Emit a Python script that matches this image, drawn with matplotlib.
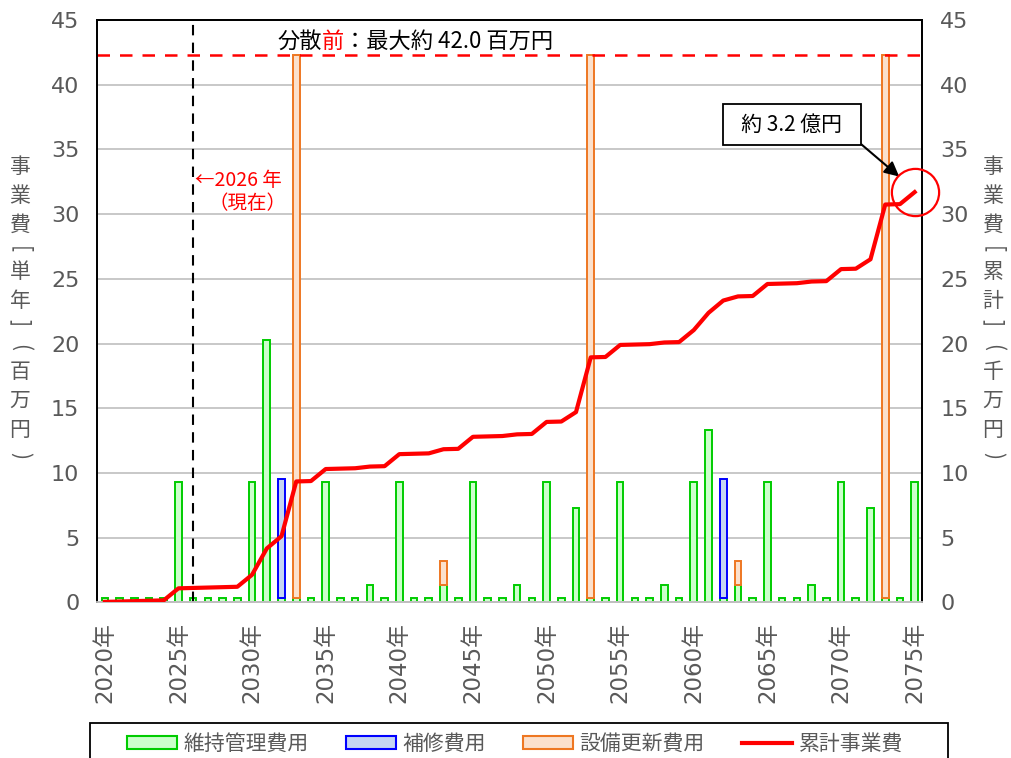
import numpy as np
import matplotlib.pyplot as plt
from matplotlib.patches import Patch, Rectangle
from matplotlib.lines import Line2D

plt.rcParams['font.family'] = ['Noto Sans CJK JP', 'DejaVu Sans']

# data (百万円 per year, cumulative in 千万円)
years = list(range(2020, 2076))
maintenance = [0.3, 0.3, 0.3, 0.3, 0.3, 9.3, 0.3, 0.3, 0.3, 0.3,
               9.3, 20.3, 0.3, 0.3, 0.3, 9.3, 0.3, 0.3, 1.3, 0.3,
               9.3, 0.3, 0.3, 1.3, 0.3, 9.3, 0.3, 0.3, 1.3, 0.3,
               9.3, 0.3, 7.3, 0.3, 0.3, 9.3, 0.3, 0.3, 1.3, 0.3,
               9.3, 13.3, 0.3, 1.3, 0.3, 9.3, 0.3, 0.3, 1.3, 0.3,
               9.3, 0.3, 7.3, 0.3, 0.3, 9.3]
repair_years = [2032, 2062]
repair_vals = [9.2, 9.2]
renewal_years = [2033, 2043, 2053, 2063, 2073]
renewal_vals = [42.0, 1.9, 42.0, 1.9, 42.0]
cumulative = [0.03, 0.06, 0.09, 0.12, 0.15, 1.08, 1.11, 1.14, 1.17, 1.20,
              2.13, 4.16, 5.11, 9.34, 9.37, 10.30, 10.33, 10.36, 10.49, 10.52,
              11.45, 11.48, 11.51, 11.83, 11.86, 12.79, 12.82, 12.85, 12.98, 13.01,
              13.94, 13.97, 14.70, 18.93, 18.96, 19.89, 19.92, 19.95, 20.08, 20.11,
              21.04, 22.37, 23.32, 23.64, 23.67, 24.60, 24.63, 24.66, 24.79, 24.82,
              25.75, 25.78, 26.51, 30.74, 30.77, 31.70]
max_before = 42.3
now_year = 2026
tick_years = list(range(2020, 2076, 5))

repair = [0.0] * len(years)
for y, v in zip(repair_years, repair_vals):
    repair[years.index(y)] = v
renewal = [0.0] * len(years)
for y, v in zip(renewal_years, renewal_vals):
    renewal[years.index(y)] = v

x = np.arange(len(years))
maintenance = np.array(maintenance)
repair = np.array(repair)
renewal = np.array(renewal)

GRAY = '#595959'
G_EDGE, G_FILL = '#00CC00', '#CCFFCC'
B_EDGE, B_FILL = '#0000FF', '#C6D6F2'
O_EDGE, O_FILL = '#EE7722', '#FBE0CC'
NUM_FONT = ['DejaVu Sans', 'Noto Sans CJK JP']

fig = plt.figure(figsize=(10.12, 7.58), dpi=100)
ax = fig.add_axes([0.0963, 0.2054, 0.9111 - 0.0963, 0.9736 - 0.2054])
ax2 = ax.twinx()

w = 0.45
ax.bar(x, maintenance, w, color=G_FILL, edgecolor=G_EDGE, lw=1.4, zorder=2)
m = repair > 0
ax.bar(x[m], repair[m], w, bottom=maintenance[m],
       color=B_FILL, edgecolor=B_EDGE, lw=1.4, zorder=2)
m = renewal > 0
ax.bar(x[m], renewal[m], w, bottom=(maintenance + repair)[m],
       color=O_FILL, edgecolor=O_EDGE, lw=1.4, zorder=2)

ax2.plot(x, cumulative, color='#FF0000', lw=3, solid_joinstyle='round', zorder=3)

ax.set_xlim(-0.5, len(years) - 0.5)
ax.set_ylim(0, 45)
ax2.set_ylim(0, 45)
ax.set_yticks(range(0, 46, 5))
ax2.set_yticks(range(0, 46, 5))
ax.grid(axis='y', color='#BFBFBF', lw=1.2)
ax.set_axisbelow(True)

ax.set_xticks([years.index(t) for t in tick_years])
ax.set_xticklabels(['%d年' % t for t in tick_years], rotation=90)
ax.tick_params(axis='x', length=0, pad=14, labelsize=16.5, labelcolor=GRAY)
ax.tick_params(axis='y', length=0, pad=13, labelsize=16, labelcolor=GRAY)
ax2.tick_params(axis='y', length=0, pad=13, labelsize=16, labelcolor=GRAY)
for lab in ax.get_xticklabels() + ax.get_yticklabels() + ax2.get_yticklabels():
    lab.set_fontfamily(NUM_FONT)

for a in (ax, ax2):
    for s in ('left', 'right', 'top'):
        a.spines[s].set_color('black')
        a.spines[s].set_linewidth(1.3)
    a.spines['bottom'].set_color('#BFBFBF')
    a.spines['bottom'].set_linewidth(1.3)

# reference lines
ax.axhline(max_before, color='#FF0000', lw=1.8, dashes=(5, 4), zorder=4)
ax.axvline(years.index(now_year), color='black', lw=1.5, dashes=(5, 3.5), zorder=4)

# top annotation
t1 = ax.text(11.7, 42.45, '分散', fontsize=16, color='black', va='bottom', ha='left')
t2 = ax.annotate('前', xy=(1, 0), xycoords=t1, fontsize=16, color='#FF0000',
                 va='bottom', ha='left')
ax.annotate('：最大約 42.0 百万円', xy=(1, 0), xycoords=t2, fontsize=16,
            color='black', va='bottom', ha='left')

ax.text(6.15, 32.6, '←2026 年', fontsize=14, color='#FF0000', va='center', ha='left')
ax.text(9.7, 30.8, '（現在）', fontsize=14, color='#FF0000', va='center', ha='center')

# total annotation
ax2.plot([x[-1]], [cumulative[-1]], marker='o', ms=34, mfc='none', mec='#FF0000',
         mew=1.6, clip_on=False, zorder=5)
ax2.annotate('  約 3.2 億円  ', xy=(53.95, 32.9), xytext=(46.65, 36.9),
             textcoords='data', fontsize=15, color='black', ha='center', va='center',
             bbox=dict(boxstyle='square,pad=0.45', fc='white', ec='black', lw=1.3),
             arrowprops=dict(arrowstyle='-|>', color='black', lw=1.5, relpos=(1, 0),
                             shrinkA=0, shrinkB=0, mutation_scale=22))


# vertical axis titles, one character at a time (tategaki)
def vertical_title(xpix, chars):
    ys = [167, 196, 225, 249, 272, 301, 323, 347, 372, 401, 430, 455]
    for ch, ypix in zip(chars, ys):
        rot = -90 if ch in '[]()' else 0
        fig.text(xpix / 1012, 1 - ypix / 758, ch, fontsize=15, color=GRAY,
                 ha='center', va='center', rotation=rot)


vertical_title(20, '事業費[単年](百万円)')
vertical_title(993, '事業費[累計](千万円)')

# legend with wide outer frame
handles = [Patch(facecolor=G_FILL, edgecolor=G_EDGE, lw=1.5),
           Patch(facecolor=B_FILL, edgecolor=B_EDGE, lw=1.5),
           Patch(facecolor=O_FILL, edgecolor=O_EDGE, lw=1.5),
           Line2D([], [], color='#FF0000', lw=3)]
labels = ['維持管理費用', '補修費用', '設備更新費用', '累計事業費']
leg = fig.legend(handles, labels, loc='center', ncol=4,
                 bbox_to_anchor=(515 / 1012, 1 - 744 / 758),
                 fontsize=15, frameon=False, handlelength=2.4, handleheight=0.58,
                 handletextpad=0.3, columnspacing=1.8, borderpad=0.0)
for t in leg.get_texts():
    t.set_color(GRAY)
fig.add_artist(Rectangle((90 / 1012, -0.05), 858 / 1012, (758 - 723) / 758 + 0.05,
                         transform=fig.transFigure, fill=False, ec='black', lw=1.3))

fig.savefig('out.png', dpi=100)
